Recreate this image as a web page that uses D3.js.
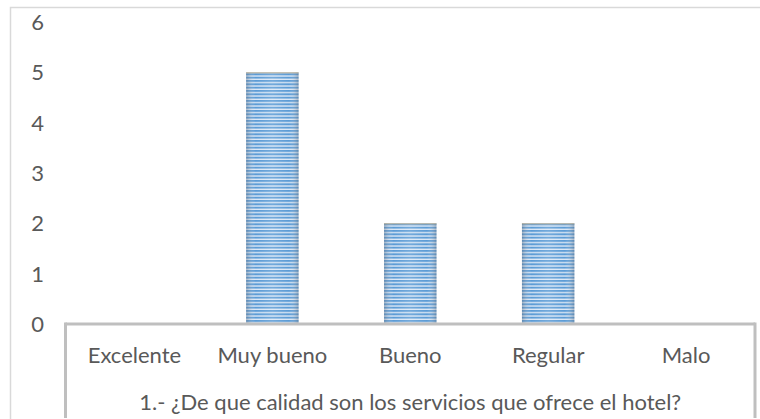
<!DOCTYPE html>
<html>
<head>
<meta charset="utf-8">
<script src="https://cdn.jsdelivr.net/npm/d3@7"></script>
<style>
  body { margin: 0; background: #fff; }
  svg { display: block; font-family: Lato, "Open Sans", sans-serif; }
</style>
</head>
<body>
<div id="chart"></div>
<script>
const categories = ["Excelente", "Muy bueno", "Bueno", "Regular", "Malo"];
const values = [0, 5, 2, 2, 0];
const yTicks = [0, 1, 2, 3, 4, 5, 6];
const title = "1.- ¿De que calidad son los servicios que ofrece el hotel?";

const width = 760;
const height = 419;
const plot = { left: 65.5, right: 755, top: 22, bottom: 324 };
const fontSize = "22px";

const svg = d3
  .select("#chart")
  .append("svg")
  .attr("width", width)
  .attr("height", height);

// striped fill with shading across the bar
const defs = svg.append("defs");
const pat = defs
  .append("pattern")
  .attr("id", "stripes")
  .attr("patternUnits", "userSpaceOnUse")
  .attr("width", 10)
  .attr("height", 10 / 3);
pat.append("rect").attr("width", 10).attr("height", 10 / 3).attr("fill", "#dfeaf7");
pat.append("rect").attr("width", 10).attr("height", 2).attr("fill", "#5b9bd5");

const grad = defs
  .append("linearGradient")
  .attr("id", "shade")
  .attr("x1", 0)
  .attr("x2", 1)
  .attr("y1", 0)
  .attr("y2", 0);
[
  [0, "#5f6b7a", 0.4],
  [0.18, "#ffffff", 0],
  [0.5, "#ffffff", 0.15],
  [0.82, "#ffffff", 0],
  [1, "#5f6b7a", 0.4],
].forEach(([o, c, a]) =>
  grad.append("stop").attr("offset", o).attr("stop-color", c).attr("stop-opacity", a)
);

// outer chart border
svg
  .append("rect")
  .attr("x", 10.5)
  .attr("y", 7.5)
  .attr("width", 800)
  .attr("height", 500)
  .attr("fill", "none")
  .attr("stroke", "#d9d9d9")
  .attr("stroke-width", 1.5);

const x = d3
  .scaleBand()
  .domain(categories)
  .range([plot.left, plot.right])
  .paddingInner(0.62)
  .paddingOuter(0.31);

const y = d3.scaleLinear().domain([0, 6]).range([plot.bottom, plot.top]);

// y tick labels
svg
  .append("g")
  .selectAll("text")
  .data(yTicks)
  .join("text")
  .attr("x", 44)
  .attr("y", (d) => y(d))
  .attr("dy", "0.36em")
  .attr("text-anchor", "end")
  .attr("fill", "#595959")
  .style("font-size", fontSize)
  .text((d) => d);

// bars
const bars = svg
  .append("g")
  .selectAll("g")
  .data(categories.map((c, i) => ({ c, v: values[i] })).filter((d) => d.v > 0))
  .join("g");

bars
  .append("rect")
  .attr("x", (d) => x(d.c))
  .attr("y", (d) => y(d.v))
  .attr("width", x.bandwidth())
  .attr("height", (d) => y(0) - y(d.v))
  .attr("fill", "url(#stripes)");

bars
  .append("rect")
  .attr("x", (d) => x(d.c))
  .attr("y", (d) => y(d.v))
  .attr("width", x.bandwidth())
  .attr("height", (d) => y(0) - y(d.v))
  .attr("fill", "url(#shade)");

bars
  .append("line")
  .attr("x1", (d) => x(d.c))
  .attr("x2", (d) => x(d.c) + x.bandwidth())
  .attr("y1", (d) => y(d.v) + 0.5)
  .attr("y2", (d) => y(d.v) + 0.5)
  .attr("stroke", "#b9ad94")
  .attr("stroke-width", 1);

// category table box
const axis = svg.append("g").attr("stroke", "#bfbfbf").attr("stroke-width", 3);
axis
  .append("line")
  .attr("x1", plot.left)
  .attr("x2", plot.right)
  .attr("y1", plot.bottom)
  .attr("y2", plot.bottom);
axis
  .append("line")
  .attr("x1", plot.left)
  .attr("x2", plot.left)
  .attr("y1", plot.bottom - 1.5)
  .attr("y2", 418);
axis
  .append("line")
  .attr("x1", plot.right)
  .attr("x2", plot.right)
  .attr("y1", plot.bottom - 1.5)
  .attr("y2", 418);

// category labels
svg
  .append("g")
  .selectAll("text")
  .data(categories)
  .join("text")
  .attr("x", (d) => x(d) + x.bandwidth() / 2)
  .attr("y", 355)
  .attr("dy", "0.36em")
  .attr("text-anchor", "middle")
  .attr("fill", "#595959")
  .style("font-size", fontSize)
  .text((d) => d);

svg
  .append("text")
  .attr("x", (plot.left + plot.right) / 2)
  .attr("y", 402)
  .attr("dy", "0.36em")
  .attr("text-anchor", "middle")
  .attr("fill", "#595959")
  .style("font-size", fontSize)
  .text(title);
</script>
</body>
</html>
